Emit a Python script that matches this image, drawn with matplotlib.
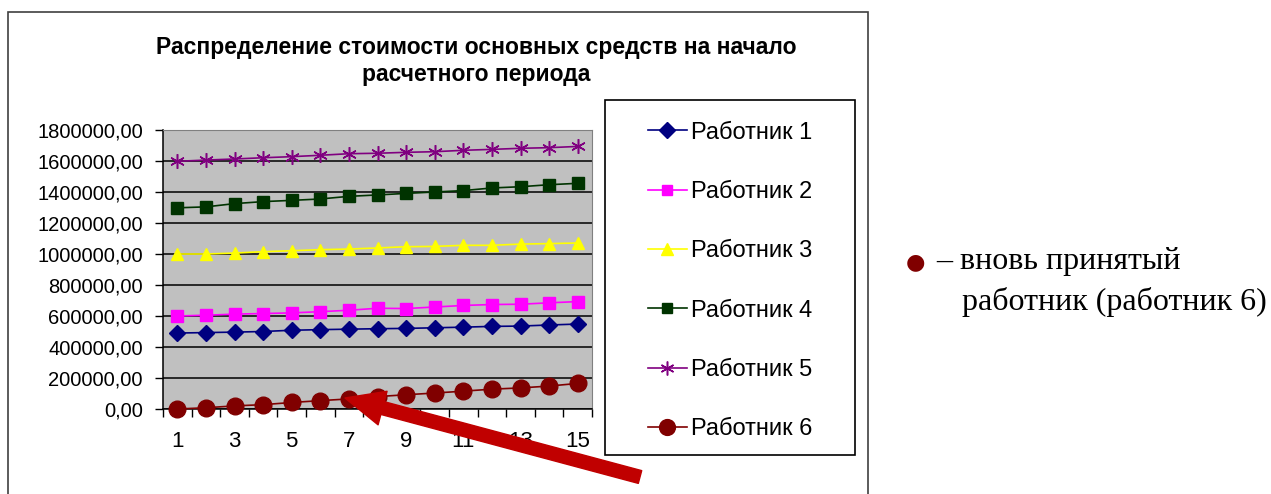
import numpy as np
import matplotlib
matplotlib.use('Agg')
import matplotlib.pyplot as plt
from matplotlib.patches import Rectangle
from matplotlib.ticker import FuncFormatter

plt.rcParams['font.family'] = ['Liberation Sans', 'DejaVu Sans']

# data
periods = np.arange(1, 16)
worker_1 = [490000, 493000, 496000, 500000, 508000, 512000, 515000, 518000,
            520000, 524000, 528000, 533000, 535000, 542000, 548000]
worker_2 = [600000, 605000, 612000, 616000, 620000, 628000, 637000, 650000,
            648000, 658000, 668000, 674000, 676000, 685000, 693000]
worker_3 = [1000000, 1000000, 1006000, 1015000, 1021000, 1028000, 1032000, 1039000,
            1047000, 1049000, 1056000, 1056000, 1064000, 1067000, 1071000]
worker_4 = [1298000, 1304000, 1325000, 1338000, 1346000, 1355000, 1372000, 1381000,
            1391000, 1400000, 1409000, 1426000, 1434000, 1447000, 1456000]
worker_5 = [1598000, 1606000, 1613000, 1621000, 1628000, 1637000, 1647000, 1650000,
            1656000, 1660000, 1669000, 1675000, 1682000, 1686000, 1694000]
worker_6 = [0, 8000, 20000, 28000, 42000, 54000, 65000, 80000,
            92000, 103000, 115000, 128000, 136000, 148000, 165000]
labels = ['Работник 1', 'Работник 2', 'Работник 3', 'Работник 4', 'Работник 5', 'Работник 6']
title = 'Распределение стоимости основных средств на начало\nрасчетного периода'

W, H = 1271, 494
fig = plt.figure(figsize=(W / 100, H / 100), dpi=100)

# outer chart frame
fig.add_artist(Rectangle((8 / W, -0.1), 860 / W, 1.1 - 12 / H, transform=fig.transFigure,
                         fill=False, edgecolor='#404040', linewidth=1.2))

ax = fig.add_axes([163 / W, 1 - 409 / H, 429 / W, 279 / H])
ax.set_facecolor('#C0C0C0')

styles = [
    dict(color='#000080', marker='D', ms=8.5),
    dict(color='#FF00FF', marker='s', ms=8),
    dict(color='#FFFF00', marker='^', ms=9),
    dict(color='#003300', marker='s', ms=8),
    dict(color='#800080', marker=(6, 2, 0), ms=10.5, mew=1.1),
    dict(color='#800000', marker='o', ms=12),
]
series = [worker_1, worker_2, worker_3, worker_4, worker_5, worker_6]
handles = []
for vals, st, lab in zip(series, styles, labels):
    h, = ax.plot(periods, vals, linewidth=1.2, label=lab, clip_on=False, zorder=3, **st)
    handles.append(h)

ax.set_xlim(0.5, 15.5)
ax.set_ylim(0, 1800000)
ax.set_yticks(np.arange(0, 1800001, 200000))
ax.yaxis.set_major_formatter(FuncFormatter(lambda v, p: ('%.2f' % v).replace('.', ',')))
ax.grid(axis='y', color='black', linewidth=1.1)
ax.set_axisbelow(True)
ax.set_xticks(np.arange(1, 16, 2))
ax.set_xticks(np.arange(0.5, 15.6, 1), minor=True)
ax.tick_params(axis='x', which='major', length=0, pad=16, labelsize=16)
ax.tick_params(axis='x', which='minor', length=6, width=1, direction='out')
ax.tick_params(axis='y', length=6, width=1, pad=8.5, labelsize=14.5)
for s in ['top', 'right']:
    ax.spines[s].set_color('#808080')
for s in ['left', 'bottom']:
    ax.spines[s].set_color('black')
    ax.spines[s].set_linewidth(1.1)

fig.text(476 / W, 1 - 61 / H, title, ha='center', va='center', fontsize=16.5,
         fontweight='bold', linespacing=1.2)

# legend box
fig.add_artist(Rectangle((605 / W, 1 - 455 / H), 250 / W, 355 / H, transform=fig.transFigure,
                         fill=False, edgecolor='black', linewidth=1.2))
fig.legend(handles=handles, loc='center', bbox_to_anchor=(730 / W, 1 - 281 / H),
           frameon=False, fontsize=17, labelspacing=1.58, handlelength=1.65,
           handletextpad=0.17, markerscale=0.95)

# side note
fig.text(915 / W, 1 - 262 / H, '●', color='#800000', fontsize=16, ha='center', va='center',
         family=['DejaVu Sans'])
fig.text(936 / W, 1 - 262 / H, '– вновь принятый', fontsize=23, ha='left', va='center',
         family=['Liberation Serif'])
fig.text(962 / W, 1 - 302 / H, 'работник (работник 6)', fontsize=23, ha='left', va='center',
         family=['Liberation Serif'])

# red arrow
ax.annotate('', xy=(345, H - 398), xycoords='figure pixels',
            xytext=(640, H - 477), textcoords='figure pixels',
            arrowprops=dict(arrowstyle='simple,head_length=2.8,head_width=2.5,tail_width=0.95',
                            color='#C00000', mutation_scale=10, shrinkA=0, shrinkB=0),
            annotation_clip=False)

fig.savefig('out.png', dpi=100)
